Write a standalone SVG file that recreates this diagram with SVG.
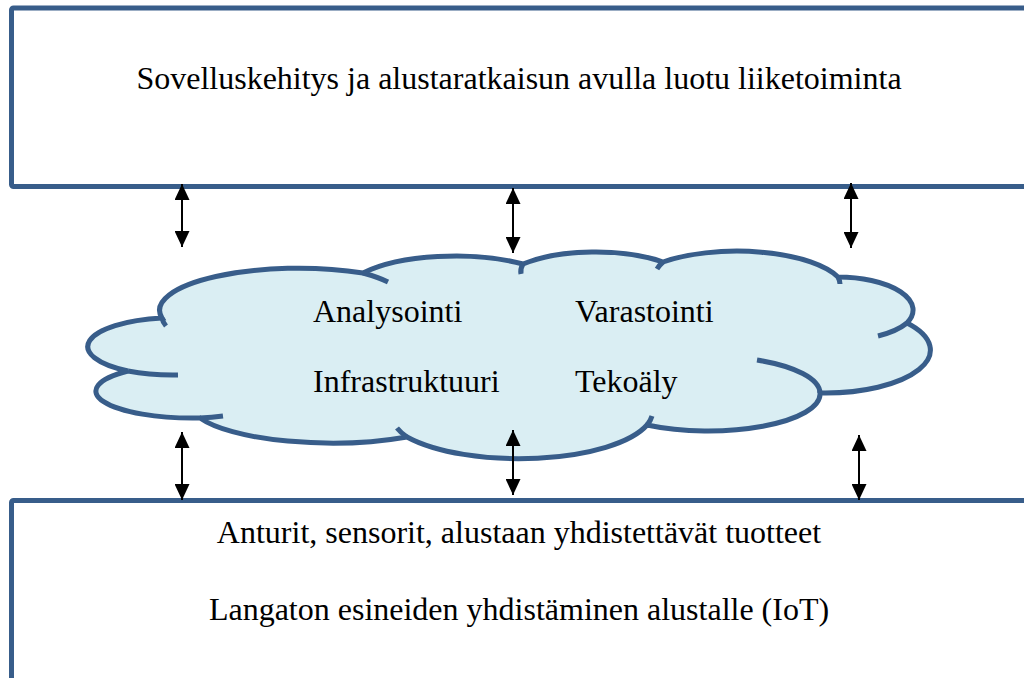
<svg xmlns="http://www.w3.org/2000/svg" width="1024" height="678" viewBox="0 0 1024 678">
  <style>
    .box { fill: #ffffff; stroke: #385D8A; stroke-width: 5; }
    .cloud { fill: #DAEEF3; stroke: #385D8A; stroke-width: 5; }
    .tail { fill: none; stroke: #385D8A; stroke-width: 5; }
    .label { font-family: "Liberation Serif", "Times New Roman", serif; font-size: 32px; fill: #000000; }
    .mid { text-anchor: middle; }
    .arrow { stroke: #000000; stroke-width: 2; fill: none; marker-start: url(#head); marker-end: url(#head); }
  </style>
  <defs>
    <marker id="head" markerUnits="userSpaceOnUse" markerWidth="16" markerHeight="15" refX="16" refY="7.5" orient="auto-start-reverse">
      <path d="M0 0 L16 7.5 L0 15 Z" fill="#000000"/>
    </marker>
  </defs>

  <rect width="1024" height="678" fill="#ffffff"/>

  <!-- upper layer: business built on the platform -->
  <g id="business">
    <rect class="box" x="11.5" y="8" width="1100" height="178.5" rx="2"/>
    <text class="label mid" x="519" y="89">Sovelluskehitys ja alustaratkaisun avulla luotu liiketoiminta</text>
  </g>

  <!-- middle layer: cloud platform services -->
  <g id="cloud">
    <path class="cloud" d="M162 318
      A139 42 0 0 1 363 273
      A113 40 0 0 1 523 264
      A96 35 0 0 1 663 262
      A108 40 0 0 1 838 277
      A75 33 0 0 1 907 323
      A105 43 0 0 1 820 393
      A112 37 0 0 1 647 425
      A134 48 0 0 1 407 437
      A142 40 0 0 1 200 418
      A97 27 0 0 1 128 371
      A88 29 0 0 1 162 318 Z"/>
    <!-- inner lobe strokes -->
    <path class="tail" d="M162 318 A139 42 0 0 0 166 326"/>
    <path class="tail" d="M363 273 A139 42 0 0 1 388 282"/>
    <path class="tail" d="M523 264 A96 35 0 0 0 521 274"/>
    <path class="tail" d="M663 262 A108 40 0 0 0 657 269"/>
    <path class="tail" d="M838 277 A108 40 0 0 1 840 284"/>
    <path class="tail" d="M907 323 A75 33 0 0 1 878 336"/>
    <path class="tail" d="M820 393 A112 37 0 0 0 757 360"/>
    <path class="tail" d="M647 425 A134 48 0 0 0 652 416"/>
    <path class="tail" d="M407 437 A134 48 0 0 1 397 428"/>
    <path class="tail" d="M200 418 A97 27 0 0 0 223 416"/>
    <path class="tail" d="M128 371 A88 29 0 0 0 178 375"/>
    <text class="label" x="313" y="322">Analysointi</text>
    <text class="label" x="575" y="322">Varastointi</text>
    <text class="label" x="313" y="392">Infrastruktuuri</text>
    <text class="label" x="575" y="392">Tekoäly</text>
  </g>

  <!-- lower layer: connected devices -->
  <g id="devices">
    <rect class="box" x="11.5" y="500.5" width="1100" height="250" rx="2"/>
    <text class="label mid" x="519" y="543">Anturit, sensorit, alustaan yhdistettävät tuotteet</text>
    <text class="label mid" x="519" y="620">Langaton esineiden yhdistäminen alustalle (IoT)</text>
  </g>

  <!-- two-way links between the layers -->
  <g id="connectors">
    <path class="arrow" d="M182 184 L182 247"/>
    <path class="arrow" d="M513 188 L513 253"/>
    <path class="arrow" d="M851 183 L851 248"/>
    <path class="arrow" d="M182 432 L182 500"/>
    <path class="arrow" d="M513 430 L513 495"/>
    <path class="arrow" d="M859 435 L859 500"/>
  </g>
</svg>
